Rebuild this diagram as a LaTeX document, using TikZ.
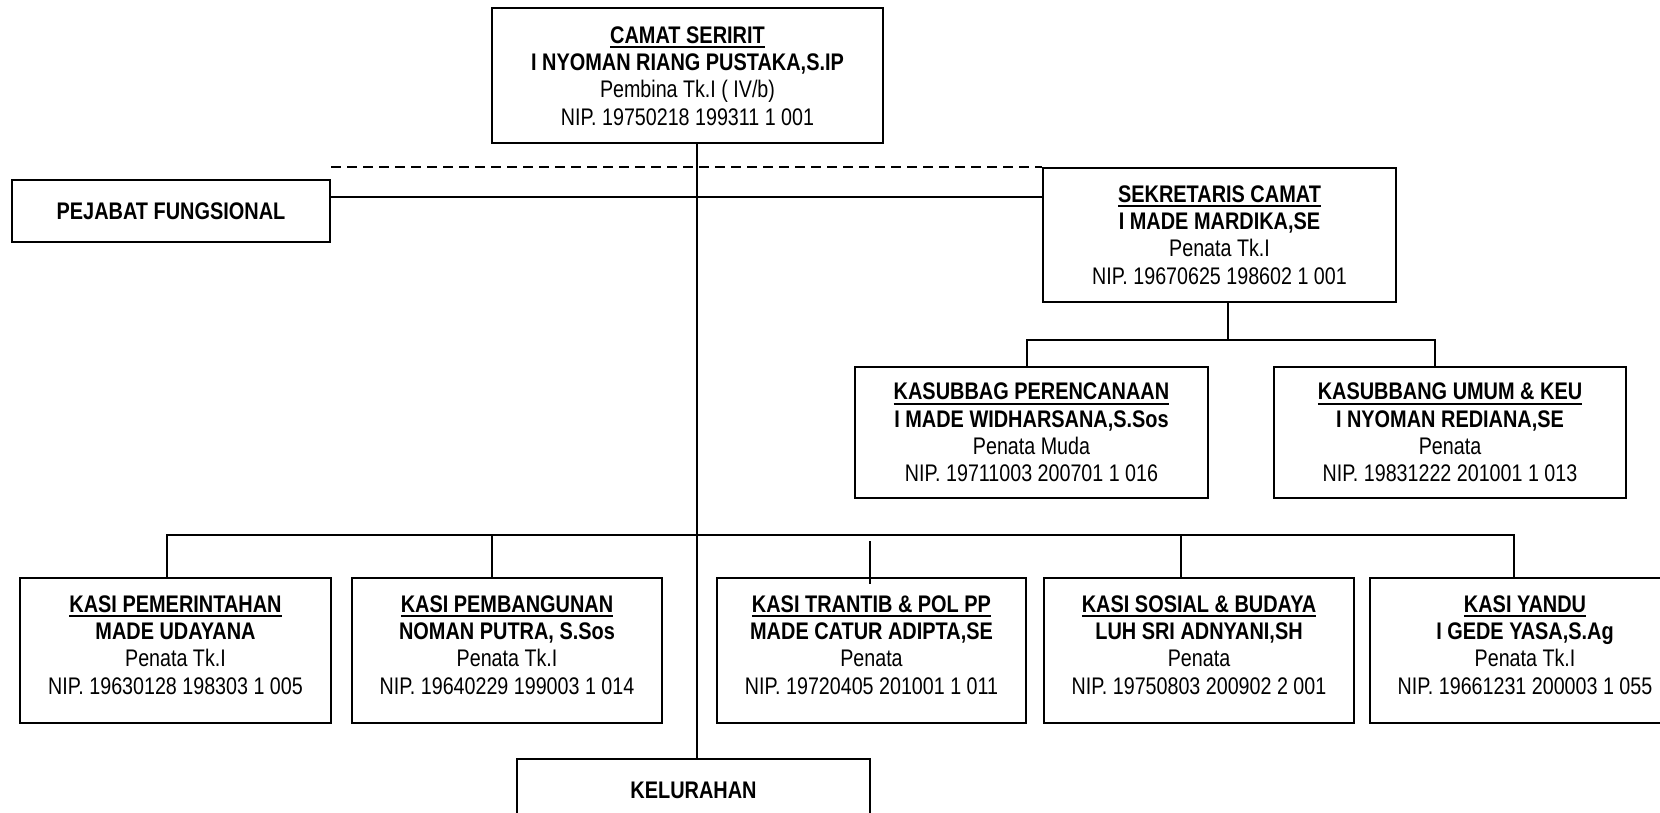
\documentclass[tikz,border=0pt]{standalone}
\usepackage{fontspec}
\setmainfont{Liberation Sans}[FakeStretch=0.82]
\newfontfamily\boldsans{Liberation Sans Bold}[FakeStretch=0.83]
\usepackage{tikz}
\usetikzlibrary{calc}

\newcommand{\bftext}[1]{{\boldsans #1}}
\newcommand{\unln}[1]{\setbox0\hbox{#1}\rlap{\rule[-3.6pt]{\wd0}{1.4pt}}\box0}
\newcommand{\post}[4]{\unln{\bftext{#1}}\\\bftext{#2}\\#3\\#4}
% same text, set a little higher in the box
\newcommand{\postup}[4]{\raisebox{2pt}[\height][\depth]{\begin{tabular}{@{}c@{}}\post{#1}{#2}{#3}{#4}\end{tabular}}}

\tikzset{
  unit/.style={draw, line width=1.5pt, align=center, inner sep=0pt,
    font=\fontsize{18}{20.5}\selectfont},
  link/.style={line width=1pt},
  dashlink/.style={line width=1pt, dash pattern={on 7.5pt off 4.5pt}}
}

\begin{document}
\begin{tikzpicture}[x=0.75pt,y=0.75pt,yscale=-1,xscale=1]
\useasboundingbox (0,0) rectangle (1660,813);

%Shape: Rectangle [camat]
\node [unit, minimum width=293.25pt, minimum height=100.9pt] (camat) at (687.5,75.75)
  {\post{CAMAT SERIRIT}{I NYOMAN RIANG PUSTAKA,S.IP}{Pembina Tk.I ( IV/b)}{NIP. 19750218 199311 1 001}};
%Shape: Rectangle [pejabat]
\node [unit, minimum width=238.5pt, minimum height=46.5pt] (pejabat) at (171,211)
  {\bftext{PEJABAT FUNGSIONAL}};
%Shape: Rectangle [sekcam]
\node [unit, minimum width=264.75pt, minimum height=100.5pt] (sekcam) at (1219.5,235)
  {\post{SEKRETARIS CAMAT}{I MADE MARDIKA,SE}{Penata Tk.I}{NIP. 19670625 198602 1 001}};
%Shape: Rectangle [renc]
\node [unit, minimum width=264.75pt, minimum height=98.25pt] (renc) at (1031.5,432.5)
  {\post{KASUBBAG PERENCANAAN}{I MADE WIDHARSANA,S.Sos}{Penata Muda}{NIP. 19711003 200701 1 016}};
%Shape: Rectangle [umum]
\node [unit, minimum width=264pt, minimum height=98.25pt] (umum) at (1450,432.5)
  {\post{KASUBBANG UMUM \& KEU}{I NYOMAN REDIANA,SE}{Penata}{NIP. 19831222 201001 1 013}};

%Shape: Rectangle [kasi row]
\node [unit, minimum width=233.25pt, minimum height=108.75pt] (pem) at (175.5,650.5)
  {\postup{KASI PEMERINTAHAN}{MADE UDAYANA}{Penata Tk.I}{NIP. 19630128 198303 1 005}};
\node [unit, minimum width=232.5pt, minimum height=108.75pt] (bang) at (507,650.5)
  {\postup{KASI PEMBANGUNAN}{NOMAN PUTRA, S.Sos}{Penata Tk.I}{NIP. 19640229 199003 1 014}};
\node [unit, minimum width=231.75pt, minimum height=108.75pt] (trantib) at (871.5,650.5)
  {\postup{KASI TRANTIB \& POL PP}{MADE CATUR ADIPTA,SE}{Penata}{NIP. 19720405 201001 1 011}};
\node [unit, minimum width=232.5pt, minimum height=108.75pt] (sosbud) at (1199,650.5)
  {\postup{KASI SOSIAL \& BUDAYA}{LUH SRI ADNYANI,SH}{Penata}{NIP. 19750803 200902 2 001}};
\node [unit, minimum width=232.5pt, minimum height=108.75pt] (yandu) at (1525,650.5)
  {\postup{KASI YANDU}{I GEDE YASA,S.Ag}{Penata Tk.I}{NIP. 19661231 200003 1 055}};

%Shape: Rectangle [kelurahan]
\node [unit, minimum width=264.75pt, minimum height=46.5pt] (kel) at (693.5,790)
  {\bftext{KELURAHAN}};

% rails
\coordinate (spine) at (697,0);
\coordinate (fung) at (0,197);
\coordinate (sdrop) at (1228,340);
\coordinate (s1) at (1027,340);
\coordinate (s2) at (1435,340);
\coordinate (d1) at (167,535);
\coordinate (d2) at (492,535);
\coordinate (d3) at (870,541);
\coordinate (d4) at (1181,535);
\coordinate (d5) at (1514,535);

%Straight Lines
\draw [dashlink] (pejabat.east |- sekcam.north) -- (sekcam.north west);
\draw [link] (pejabat.east |- fung) -- (sekcam.west |- fung);
\draw [link] (spine |- camat.south) -- (spine |- kel.north);
\draw [link] (sekcam.south -| sdrop) -- (sdrop);
\draw [link] (s1 |- renc.north) -- (s1) -- (s2) -- (s2 |- umum.north);
\draw [link] (d1 |- pem.north) -- (d1) -- (d5) -- (d5 |- yandu.north);
\draw [link] (d2) -- (d2 |- bang.north);
\draw [link] (d3) -- ($(d3 |- trantib.north)+(0,7)$);
\draw [link] (d4) -- (d4 |- sosbud.north);

\end{tikzpicture}
\end{document}
